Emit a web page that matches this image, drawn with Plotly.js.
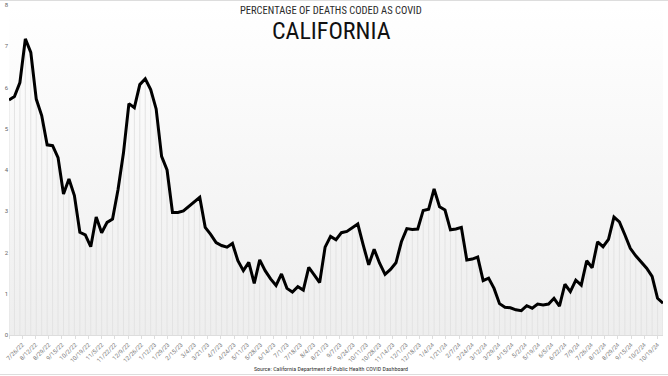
<!DOCTYPE html>
<html>
<head>
<meta charset="utf-8">
<script src="https://cdn.plot.ly/plotly-3.0.1.min.js"></script>
<style>
  html, body { margin: 0; padding: 0; background: #ffffff; }
  #chart { width: 668px; height: 376px; }
</style>
</head>
<body>
<div id="chart"></div>
<script>
// Weekly report dates
const weekDates = [
  "2022-07-09","2022-07-16","2022-07-23","2022-07-30","2022-08-06","2022-08-13","2022-08-20","2022-08-27",
  "2022-09-03","2022-09-10","2022-09-17","2022-09-24","2022-10-01","2022-10-08","2022-10-15","2022-10-22",
  "2022-10-29","2022-11-05","2022-11-12","2022-11-19","2022-11-26","2022-12-03","2022-12-10","2022-12-17",
  "2022-12-24","2022-12-31",
  "2023-01-07","2023-01-14","2023-01-21","2023-01-28","2023-02-04","2023-02-11","2023-02-18","2023-02-25",
  "2023-03-04","2023-03-11","2023-03-18","2023-03-25","2023-04-01","2023-04-08","2023-04-15","2023-04-22",
  "2023-04-29","2023-05-06","2023-05-13","2023-05-20","2023-05-27","2023-06-03","2023-06-10","2023-06-17",
  "2023-06-24","2023-07-01","2023-07-08","2023-07-15","2023-07-22","2023-07-29","2023-08-05","2023-08-12",
  "2023-08-19","2023-08-26","2023-09-02","2023-09-09","2023-09-16","2023-09-23","2023-09-30","2023-10-07",
  "2023-10-14","2023-10-21","2023-10-28","2023-11-04","2023-11-11","2023-11-18","2023-11-25","2023-12-02",
  "2023-12-09","2023-12-16","2023-12-23","2023-12-30",
  "2024-01-06","2024-01-13","2024-01-20","2024-01-27","2024-02-03","2024-02-10","2024-02-17","2024-02-24",
  "2024-03-02","2024-03-09","2024-03-16","2024-03-23","2024-03-30","2024-04-06","2024-04-13","2024-04-20",
  "2024-04-27","2024-05-04","2024-05-11","2024-05-18","2024-05-25","2024-06-01","2024-06-08","2024-06-15",
  "2024-06-22","2024-06-29","2024-07-06","2024-07-13","2024-07-20","2024-07-27","2024-08-03","2024-08-10",
  "2024-08-17","2024-08-24","2024-08-31","2024-09-07","2024-09-14","2024-09-21","2024-09-28","2024-10-05",
  "2024-10-12","2024-10-19","2024-10-26"
];

// Percentage of deaths coded as COVID
const covidPct = [
  5.70, 5.78, 6.12, 7.18, 6.85, 5.72, 5.32, 4.61, 4.59, 4.30,
  3.42, 3.78, 3.38, 2.49, 2.43, 2.14, 2.86, 2.48, 2.73, 2.81,
  3.52, 4.41, 5.61, 5.51, 6.07, 6.21, 5.95, 5.48, 4.33, 4.00,
  2.97, 2.97, 3.01, 3.12, 3.24, 3.34, 2.61, 2.44, 2.24, 2.17,
  2.13, 2.22, 1.80, 1.56, 1.76, 1.25, 1.82, 1.56, 1.36, 1.20,
  1.48, 1.13, 1.04, 1.17, 1.09, 1.64, 1.46, 1.27, 2.13, 2.39,
  2.31, 2.48, 2.51, 2.61, 2.69, 2.18, 1.70, 2.08, 1.74, 1.47,
  1.59, 1.75, 2.26, 2.58, 2.56, 2.57, 3.02, 3.05, 3.54, 3.11,
  3.03, 2.55, 2.57, 2.61, 1.82, 1.84, 1.89, 1.32, 1.38, 1.13,
  0.76, 0.67, 0.66, 0.61, 0.59, 0.71, 0.65, 0.75, 0.73, 0.75,
  0.89, 0.70, 1.23, 1.05, 1.33, 1.21, 1.80, 1.63, 2.26, 2.14,
  2.32, 2.86, 2.74, 2.43, 2.10, 1.92, 1.78, 1.62, 1.42, 0.89,
  0.77
];

// X-axis tick label dates (every 17 days)
const tickDates = [
  "2022-07-09","2022-07-26","2022-08-12","2022-08-29","2022-09-15","2022-10-02","2022-10-19","2022-11-05",
  "2022-11-22","2022-12-09","2022-12-26","2023-01-12","2023-01-29","2023-02-15","2023-03-04","2023-03-21",
  "2023-04-07","2023-04-24","2023-05-11","2023-05-28","2023-06-14","2023-07-01","2023-07-18","2023-08-04",
  "2023-08-21","2023-09-07","2023-09-24","2023-10-11","2023-10-28","2023-11-14","2023-12-01","2023-12-18",
  "2024-01-04","2024-01-21","2024-02-07","2024-02-24","2024-03-12","2024-03-29","2024-04-15","2024-05-02",
  "2024-05-19","2024-06-05","2024-06-22","2024-07-09","2024-07-26","2024-08-12","2024-08-29","2024-09-15",
  "2024-10-02","2024-10-19"
];
const yTicks = [0, 1, 2, 3, 4, 5, 6, 7, 8];

const subTitle = "PERCENTAGE OF DEATHS CODED AS COVID";
const mainTitle = "CALIFORNIA";
const sourceText = "Source: California Department of Public Health COVID Dashboard";

const gradSvg = "<svg xmlns='http://www.w3.org/2000/svg' width='10' height='100' preserveAspectRatio='none'>" +
  "<defs><linearGradient id='g' x1='0' y1='0' x2='0' y2='1'>" +
  "<stop offset='0' stop-color='#ffffff'/><stop offset='1' stop-color='#eeeeee'/>" +
  "</linearGradient></defs><rect width='10' height='100' fill='url(#g)'/></svg>";
const gradUri = "data:image/svg+xml;charset=utf-8," + encodeURIComponent(gradSvg);

const dropTrace = {
  x: weekDates,
  y: covidPct,
  type: "scatter",
  mode: "markers",
  marker: { size: 1, opacity: 0 },
  error_y: {
    type: "data",
    symmetric: false,
    array: covidPct.map(() => 0),
    arrayminus: covidPct,
    width: 0,
    thickness: 1,
    color: "#e3e3e3"
  },
  hoverinfo: "skip",
  showlegend: false
};

const lineTrace = {
  x: weekDates,
  y: covidPct,
  type: "scatter",
  mode: "lines",
  line: { color: "#000000", width: 3, shape: "linear" },
  showlegend: false
};

const titleFont = "'Liberation Sans Narrow', 'Roboto Condensed', Roboto, Arial, sans-serif";

const layout = {
  width: 668,
  height: 376,
  margin: { l: 9, r: 5, t: 5, b: 41, pad: 0 },
  paper_bgcolor: "#ffffff",
  plot_bgcolor: "rgba(0,0,0,0)",
  showlegend: false,
  images: [{
    source: gradUri,
    xref: "paper", yref: "paper",
    x: 0, y: 1, sizex: 1, sizey: 1,
    xanchor: "left", yanchor: "top",
    sizing: "stretch", layer: "below"
  }],
  xaxis: {
    type: "date",
    range: [weekDates[0], weekDates[weekDates.length - 1]],
    tickmode: "array",
    tickvals: tickDates,
    tickformat: "%-m/%-d/%y",
    tickangle: -45,
    tickfont: { family: "Roboto, Arial, sans-serif", size: 6, color: "#777777" },
    ticks: "outside",
    ticklen: 3,
    tickcolor: "#dddddd",
    showgrid: false,
    zeroline: false,
    showline: true,
    linecolor: "#dddddd",
    linewidth: 1,
    automargin: false,
    fixedrange: true
  },
  yaxis: {
    range: [0, 8],
    tickmode: "array",
    tickvals: yTicks,
    tickfont: { family: "Roboto, Arial, sans-serif", size: 6, color: "#666666" },
    ticks: "",
    showgrid: false,
    zeroline: false,
    showline: false,
    automargin: false,
    fixedrange: true
  },
  shapes: [
    { type: "line", xref: "paper", yref: "paper", x0: -0.02, x1: 1.02, y0: 1.0136, y1: 1.0136,
      line: { color: "#dddddd", width: 1 } },
    { type: "line", xref: "paper", yref: "paper", x0: -0.02, x1: 1.02, y0: -0.1197, y1: -0.1197,
      line: { color: "#dddddd", width: 1 } }
  ],
  annotations: [
    { text: subTitle, xref: "paper", yref: "paper", x: 0.4924, y: 0.9833,
      xanchor: "center", yanchor: "middle", showarrow: false,
      font: { family: titleFont, size: 10.5, color: "#2a2a2a", weight: 400 } },
    { text: mainTitle, xref: "paper", yref: "paper", x: 0.4924, y: 0.9197,
      xanchor: "center", yanchor: "middle", showarrow: false,
      font: { family: titleFont, size: 24, color: "#111111", weight: 400 } },
    { text: sourceText, xref: "paper", yref: "paper", x: 0.4924, y: -0.103,
      xanchor: "center", yanchor: "middle", showarrow: false,
      font: { family: titleFont, size: 6, color: "#333333" } }
  ]
};

Plotly.newPlot("chart", [dropTrace, lineTrace], layout, { displayModeBar: false, staticPlot: true });
</script>
</body>
</html>
